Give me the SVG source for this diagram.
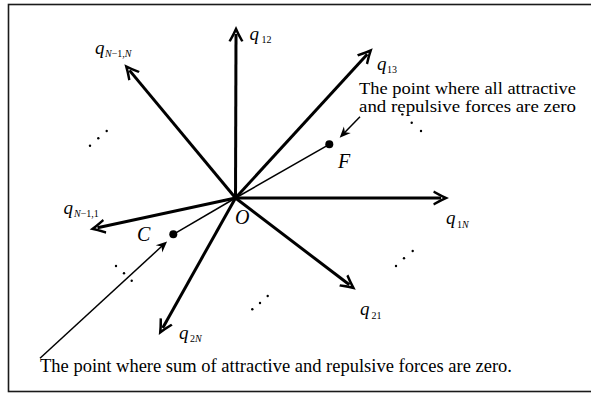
<svg xmlns="http://www.w3.org/2000/svg" width="591" height="394" viewBox="0 0 591 394">
<style>
.frame{fill:none;stroke:#1a1a1a;stroke-width:1.6}
.vec{stroke:#000;stroke-width:3;fill:none}
.thin{stroke:#000;stroke-width:1.5;fill:none}
.q{font-family:"Liberation Serif","Times New Roman",serif;font-style:italic;font-size:19px;fill:#000}
.sub{font-family:"Liberation Serif","Times New Roman",serif;font-style:normal;font-size:10px}
.it{font-style:italic}
.pt{font-family:"Liberation Serif","Times New Roman",serif;font-style:italic;font-size:20px;fill:#000}
.lbl{font-family:"Liberation Serif","Times New Roman",serif;font-size:18px;fill:#000}
.lbl2{font-family:"Liberation Serif","Times New Roman",serif;font-size:16.5px;fill:#000}
.dot{fill:#000}
</style>
<defs>
<marker id="big" viewBox="-16 -9 18 18" markerWidth="18" markerHeight="18" refX="-7" refY="0" orient="auto" markerUnits="userSpaceOnUse">
<path d="M1,0 Q-6,-3 -14,-7.5 L-14.8,-5.2 Q-9,-1.8 -5,0 Q-9,1.8 -14.8,5.2 L-14,7.5 Q-6,3 1,0 Z" fill="#000"/>
</marker>
<marker id="small" viewBox="-12 -6 13 12" markerWidth="13" markerHeight="12" refX="-6" refY="0" orient="auto" markerUnits="userSpaceOnUse">
<path d="M0.5,0 L-10.5,-4.8 L-7,0 L-10.5,4.8 Z" fill="#000"/>
</marker>
</defs>
<rect class="frame" x="8.5" y="4.5" width="584" height="387"/>
<g id="connectors">
<line class="vec" x1="235.5" y1="198" x2="236" y2="34" marker-end="url(#big)"/>
<line class="vec" x1="235.5" y1="198" x2="129.5" y2="70.4" marker-end="url(#big)"/>
<line class="vec" x1="235.5" y1="198" x2="367.3" y2="54.2" marker-end="url(#big)"/>
<line class="vec" x1="235.5" y1="198" x2="441" y2="198" marker-end="url(#big)"/>
<line class="vec" x1="235.5" y1="198" x2="349.4" y2="284.8" marker-end="url(#big)"/>
<line class="vec" x1="235.5" y1="198" x2="162.7" y2="327.9" marker-end="url(#big)"/>
<line class="vec" x1="235.5" y1="198" x2="97.5" y2="227.8" marker-end="url(#big)"/>
<line class="thin" x1="235.5" y1="198" x2="329.3" y2="144.3"/>
<line class="thin" x1="235.5" y1="198" x2="173.3" y2="234.3"/>
<line class="thin" x1="360" y1="116.7" x2="344.2" y2="133" marker-end="url(#small)"/>
<line class="thin" x1="40" y1="358.3" x2="162.3" y2="245.8" marker-end="url(#small)"/>
</g>
<g id="node-O"><text class="pt" x="235" y="224">O</text></g>
<g id="node-F"><circle class="dot" cx="329.3" cy="144.3" r="4"/><text class="pt" x="338" y="168">F</text></g>
<g id="node-C"><circle class="dot" cx="173.3" cy="234.3" r="4"/><text class="pt" x="137" y="240.5">C</text></g>
<g id="label-q12"><text class="q" x="249.5" y="40">q<tspan class="sub" x="261.5" y="43">12</tspan></text></g>
<g id="label-qN1N"><text class="q" x="95" y="53.5">q<tspan class="sub" x="105" y="57"><tspan class="it">N</tspan>−1,<tspan class="it">N</tspan></tspan></text></g>
<g id="label-q13"><text class="q" x="377" y="70">q<tspan class="sub" x="387" y="73">13</tspan></text></g>
<g id="label-q1N"><text class="q" x="446" y="224">q<tspan class="sub" x="457" y="227.5">1<tspan class="it">N</tspan></tspan></text></g>
<g id="label-q21"><text class="q" x="360" y="315">q<tspan class="sub" x="371.5" y="318.5">21</tspan></text></g>
<g id="label-q2N"><text class="q" x="179" y="338.5">q<tspan class="sub" x="190" y="342">2<tspan class="it">N</tspan></tspan></text></g>
<g id="label-qN11"><text class="q" x="63.5" y="213.5">q<tspan class="sub" x="74" y="217"><tspan class="it">N</tspan>−1,1</tspan></text></g>
<g id="dots">
<circle class="dot" cx="90" cy="145.7" r="1.2"/><circle class="dot" cx="98.3" cy="138.3" r="1.2"/><circle class="dot" cx="106.7" cy="131" r="1.2"/>
<circle class="dot" cx="402.4" cy="114.4" r="1.2"/><circle class="dot" cx="411.7" cy="122.7" r="1.2"/><circle class="dot" cx="421" cy="131" r="1.2"/>
<circle class="dot" cx="116" cy="266" r="1.2"/><circle class="dot" cx="124" cy="273.3" r="1.2"/><circle class="dot" cx="131.7" cy="280.7" r="1.2"/>
<circle class="dot" cx="252.3" cy="309.3" r="1.2"/><circle class="dot" cx="260" cy="303" r="1.2"/><circle class="dot" cx="267.7" cy="296" r="1.2"/>
<circle class="dot" cx="396" cy="266" r="1.2"/><circle class="dot" cx="404" cy="258.3" r="1.2"/><circle class="dot" cx="412.7" cy="251" r="1.2"/>
</g>
<g id="note-F">
<text class="lbl2" x="359" y="93.5" textLength="217" lengthAdjust="spacingAndGlyphs">The point where all attractive</text>
<text class="lbl2" x="359" y="112" textLength="217" lengthAdjust="spacingAndGlyphs">and repulsive forces are zero</text>
</g>
<g id="note-C">
<text class="lbl" x="40" y="372.3" textLength="472" lengthAdjust="spacingAndGlyphs">The point where sum of attractive and repulsive forces are zero.</text>
</g>
</svg>
